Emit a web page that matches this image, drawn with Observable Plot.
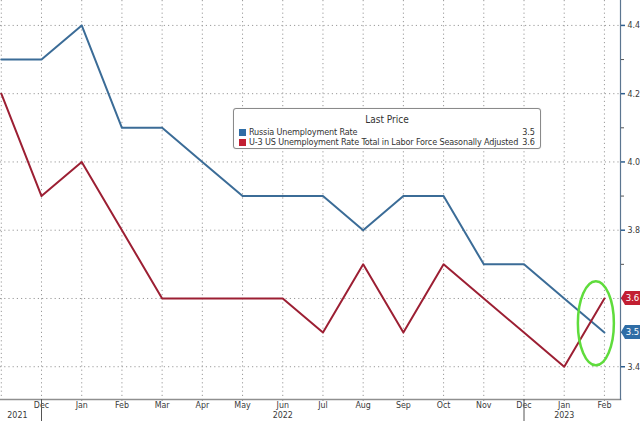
<!DOCTYPE html>
<html>
<head>
<meta charset="utf-8">
<script src="https://cdn.jsdelivr.net/npm/d3@7"></script>
<script src="https://cdn.jsdelivr.net/npm/@observablehq/plot@0.6"></script>
<style>
  body { margin: 0; background: #fff; }
  #chart { position: relative; width: 640px; height: 421px; font-family: "Liberation Sans Narrow", "DejaVu Sans Condensed", "Liberation Sans", sans-serif; }
  #chart svg { display: block; }
  .legend {
    position: absolute; left: 233px; top: 108px; width: 306px; height: 39px;
    background: #fff; border: 1px solid #8a8a8a; border-radius: 3px;
    box-shadow: 0 0 1px rgba(0,0,0,0.25);
    font-size: 9px; color: #333; line-height: 10px; white-space: nowrap;
  }
  .legend .title { text-align: center; margin-top: 6px; margin-bottom: 2px; font-size: 10px; }
  .legend .row { display: flex; align-items: center; padding: 0 5px 0 5px; height: 10px; }
  .legend .sw { width: 7px; height: 7px; margin-right: 3px; flex: none; }
  .legend .name { flex: 1; letter-spacing: -0.15px; }
</style>
</head>
<body>
<div id="chart"></div>
<script>
// Monthly readings, Nov 2021 through Feb 2023
const months = ["Nov", "Dec", "Jan", "Feb", "Mar", "Apr", "May", "Jun", "Jul", "Aug", "Sep", "Oct", "Nov", "Dec", "Jan", "Feb"];
const russiaRate = [4.3, 4.3, 4.4, 4.1, 4.1, 4.0, 3.9, 3.9, 3.9, 3.8, 3.9, 3.9, 3.7, 3.7, 3.6, 3.5];
const usRate = [4.2, 3.9, 4.0, 3.8, 3.6, 3.6, 3.6, 3.6, 3.5, 3.7, 3.5, 3.7, 3.6, 3.5, 3.4, 3.6];

const seriesNames = ["Russia Unemployment Rate", "U-3 US Unemployment Rate Total in Labor Force Seasonally Adjusted"];
const seriesColors = ["#3b6c97", "#9c1f33"];
const badgeColors = ["#2f6da6", "#c21f32"];

const yMajorTicks = [3.4, 3.6, 3.8, 4.0, 4.2, 4.4];
const yMinorTicks = [3.5, 3.7, 3.9, 4.1, 4.3];
const yearLabels = ["2021", "2022", "2023"];
const yearLabelAt = [0.4, 7, 14];   // month index each year label sits under
const yearBreakAt = [1, 13];        // month index of the year separators

// tidy rows built from the arrays above
const monthIdx = months.map((_, i) => i);
const rows = [
  ...russiaRate.map((v, i) => ({ i, v, s: seriesNames[0] })),
  ...usRate.map((v, i) => ({ i, v, s: seriesNames[1] }))
];
const last = [
  { v: russiaRate[russiaRate.length - 1], c: badgeColors[0] },
  { v: usRate[usRate.length - 1], c: badgeColors[1] }
];
// a tick label hidden under a last-value tag is not drawn
const underTag = d => last.some(l => Math.abs(l.v - d) < 1e-9);

const grid = { stroke: "#9a9a9a", strokeOpacity: 1, strokeWidth: 1, strokeDasharray: "1.2,3" };
const tickFont = { fontSize: 8.8, fill: "#3a3a3a" };

// last-value tags on the right axis
function badges(index, scales, values, dims) {
  const g = d3.create("svg:g");
  const x0 = dims.width - dims.marginRight + 1;
  const w = 19, h = 14, p = 4;
  for (const d of last) {
    const y = scales.y(d.v);
    g.append("path")
      .attr("d", `M${x0},${y} L${x0 + p},${y - h / 2} L${x0 + w},${y - h / 2} L${x0 + w},${y + h / 2} L${x0 + p},${y + h / 2} Z`)
      .attr("fill", d.c);
    g.append("text")
      .attr("x", x0 + p + (w - p) / 2).attr("y", y).attr("dy", "0.35em")
      .attr("text-anchor", "middle")
      .attr("fill", "#fff").attr("font-size", 9.5)
      .text(d.v.toFixed(1));
  }
  return g.node();
}

// highlight ring around the latest crossover
function crossRing(index, scales) {
  const cx = scales.x(14.8), cy = scales.y(3.526);
  return d3.create("svg:ellipse")
    .attr("cx", cx).attr("cy", cy).attr("rx", 18).attr("ry", 42)
    .attr("fill", "none").attr("stroke", "#5fdc3c").attr("stroke-width", 2.5)
    .node();
}

const chart = Plot.plot({
  width: 640,
  height: 421,
  marginTop: 0,
  marginBottom: 22,
  marginLeft: 0,
  marginRight: 20,
  style: { fontFamily: "'Liberation Sans Narrow', 'DejaVu Sans Condensed', sans-serif", background: "#fff" },
  x: { type: "linear", domain: [-0.02, 15.4], axis: null },
  y: { domain: [3.304, 4.473], axis: null },
  color: { domain: seriesNames, range: seriesColors },
  marks: [
    Plot.gridX(monthIdx, grid),
    Plot.gridY(yMajorTicks, grid),
    Plot.frame({ anchor: "bottom", stroke: "#8f8f8f", strokeWidth: 1.5 }),
    Plot.frame({ anchor: "right", stroke: "#5b7590", strokeWidth: 1.2 }),
    Plot.axisX(monthIdx.slice(1), { label: null, tickSize: 2, tickPadding: 0, stroke: "#8f8f8f", tickFormat: i => months[i], ...tickFont }),
    Plot.axisX(yearLabelAt, { label: null, tickSize: 0, tickPadding: 12, tickFormat: d => yearLabels[yearLabelAt.indexOf(d)], ...tickFont }),
    Plot.axisX(yearBreakAt, { label: null, tickSize: 22, stroke: "#555", tickFormat: () => "" }),
    Plot.axisY(yMajorTicks, { label: null, anchor: "right", tickSize: 4, tickPadding: 3, stroke: "#2f5f8f", strokeWidth: 1.5, tickFormat: d => underTag(d) ? "" : d.toFixed(1), ...tickFont }),
    Plot.axisY(yMinorTicks, { label: null, anchor: "right", tickSize: 3, stroke: "#555", tickFormat: () => "" }),
    Plot.line(rows, { x: "i", y: "v", z: "s", stroke: "s", strokeWidth: 2 }),
    crossRing,
    badges
  ]
});

const root = document.getElementById("chart");
root.appendChild(chart);

// legend box
const legend = document.createElement("div");
legend.className = "legend";
legend.innerHTML = `<div class="title">Last Price</div>` +
  seriesNames.map((n, k) => `<div class="row"><span class="sw" style="background:${badgeColors[k]}"></span><span class="name">${n}</span><span>${last[k].v.toFixed(1)}</span></div>`).join("");
root.appendChild(legend);
</script>
</body>
</html>
